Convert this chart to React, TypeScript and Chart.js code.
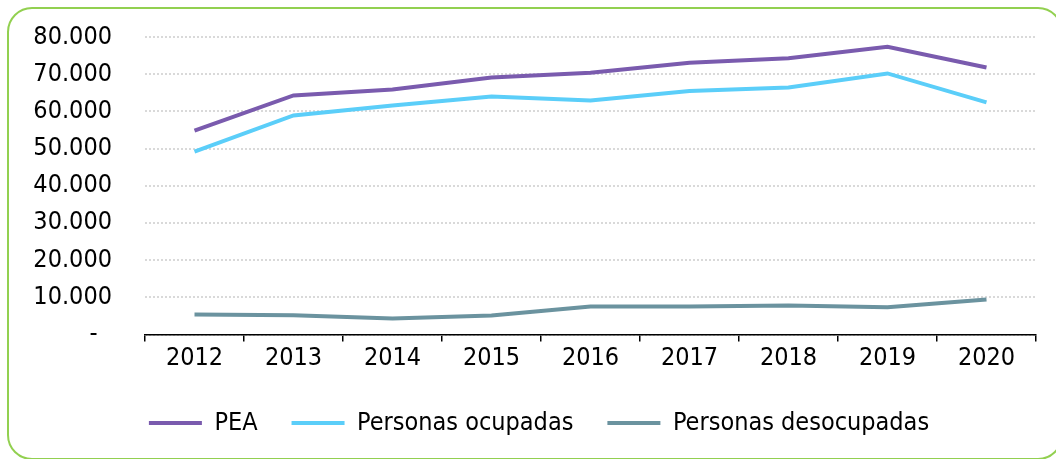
import React, { useEffect, useRef } from "react";
import { Chart, registerables } from "chart.js";

Chart.register(...registerables);

const years = ["2012", "2013", "2014", "2015", "2016", "2017", "2018", "2019", "2020"];
const pea = [54800, 64300, 65900, 69100, 70400, 73100, 74300, 77400, 71800];
const ocupadas = [49200, 58900, 61600, 64000, 62900, 65500, 66400, 70200, 62400];
const desocupadas = [5400, 5200, 4300, 5100, 7500, 7500, 7800, 7300, 9400];
const seriesNames = ["PEA", "Personas ocupadas", "Personas desocupadas"];
const seriesColors = ["#7A5BAE", "#5BCEF9", "#6B939F"];

const FONT = "'DejaVu Sans Condensed', 'DejaVu Sans', sans-serif";

function fmt(v: number): string {
  if (v === 0) return "-\u00a0\u00a0";
  return String(v).replace(/\B(?=(\d{3})+(?!\d))/g, ".");
}

export default function App() {
  const ref = useRef<HTMLCanvasElement | null>(null);
  useEffect(() => {
    if (!ref.current) return;
    const data = [pea, ocupadas, desocupadas];
    const chart = new Chart(ref.current, {
      type: "line",
      data: {
        labels: years,
        datasets: seriesNames.map((n, i) => ({
          label: n,
          data: data[i],
          borderColor: seriesColors[i],
          backgroundColor: seriesColors[i],
          borderWidth: 4,
          pointRadius: 0,
          tension: 0,
          fill: false,
          yAxisID: "y",
        })),
      },
      options: {
        responsive: false,
        animation: false,
        layout: { padding: { left: 22, right: 0, top: 37, bottom: 13.5 } },
        font: { family: FONT, size: 25 },
        plugins: {
          tooltip: { enabled: false },
          legend: {
            position: "bottom",
            labels: {
              usePointStyle: true,
              pointStyle: "line",
              pointStyleWidth: 53,
              padding: 34,
              color: "#000",
              font: { family: FONT, size: 25 },
            },
          },
        },
        scales: {
          x: {
            offset: true,
            afterFit: (s: any) => {
              s.height = 42;
            },
            grid: {
              offset: true,
              drawOnChartArea: false,
              drawTicks: true,
              tickLength: 7,
              color: "#000",
              lineWidth: 1.5,
            },
            border: { display: true, color: "#000", width: 1.5 },
            ticks: {
              color: "#000",
              padding: 2,
              maxRotation: 0,
              autoSkip: false,
              font: { family: FONT, size: 25 },
            },
          },
          y: {
            min: 0,
            max: 80000,
            afterFit: (s: any) => {
              s.width = 123;
            },
            border: { display: false, dash: [2, 2] },
            grid: {
              drawTicks: true,
              tickLength: 30,
              tickColor: "rgba(0,0,0,0)",
              color: "#D9D9D9",
              lineWidth: 2,
            },
            ticks: {
              stepSize: 10000,
              padding: 3,
              color: "#000",
              font: { family: FONT, size: 25 },
              callback: (v: any) => fmt(Number(v)),
            },
          },
          yr: {
            position: "right",
            min: 0,
            max: 80000,
            afterFit: (s: any) => {
              s.width = 20;
            },
            border: { display: false },
            grid: { display: false, drawTicks: false },
            ticks: { display: false },
          },
        },
      },
    } as any);
    return () => chart.destroy();
  }, []);

  return (
    <div>
      <div
        style={{
          position: "fixed",
          left: 7,
          top: 7,
          width: 1056,
          height: 453,
          border: "2px solid #92D050",
          borderRadius: 25,
          boxSizing: "border-box",
          pointerEvents: "none",
        }}
      />
      <canvas
        ref={ref}
        width={1056}
        height={459}
        style={{ position: "fixed", left: 0, top: 0, width: 1056, height: 459 }}
      />
    </div>
  );
}
